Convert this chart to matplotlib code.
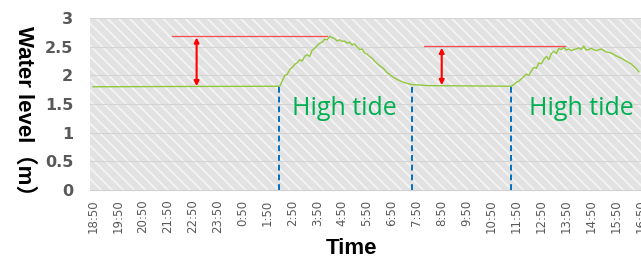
import matplotlib.pyplot as plt
from matplotlib.patches import Rectangle

# hours after 18:50
t_hours = [0.0, 3.0, 7.5, 7.6, 7.7, 7.8, 7.9, 8.0, 8.1, 8.2, 8.3, 8.4, 8.5, 8.6, 8.7,
           8.8, 8.9, 9.0, 9.1, 9.2, 9.3, 9.4, 9.5, 9.6, 9.7, 9.8, 9.9, 10.0, 10.1,
           10.2, 10.3, 10.4, 10.5, 10.6, 10.7, 10.8, 10.9, 11.0, 11.1, 11.2, 11.3,
           11.4, 11.5, 11.6, 11.7, 11.8, 11.9, 12.0, 12.2, 12.4, 12.6, 12.8, 13.5,
           16.8, 16.9, 17.0, 17.1, 17.2, 17.3, 17.4, 17.5, 17.6, 17.7, 17.8, 17.9,
           18.0, 18.1, 18.2, 18.3, 18.4, 18.5, 18.6, 18.7, 18.8, 18.9, 19.0, 19.1,
           19.2, 19.3, 19.4, 19.5, 19.6, 19.7, 19.8, 19.9, 20.0, 20.2, 20.4, 20.6,
           20.8, 21.0, 21.2, 21.4, 21.6, 21.8, 21.92]
level = [1.80, 1.805, 1.81, 1.90, 2.00, 2.02, 2.10, 2.14, 2.19, 2.22, 2.27, 2.25, 2.33,
         2.36, 2.33, 2.44, 2.47, 2.52, 2.56, 2.58, 2.63, 2.62, 2.68, 2.66, 2.64, 2.60,
         2.62, 2.59, 2.60, 2.56, 2.58, 2.53, 2.55, 2.50, 2.45, 2.46, 2.39, 2.37, 2.33,
         2.30, 2.25, 2.21, 2.17, 2.14, 2.10, 2.05, 2.02, 1.98, 1.93, 1.89, 1.86, 1.84,
         1.82, 1.81, 1.84, 1.88, 1.90, 1.94, 1.98, 2.02, 2.00, 2.08, 2.14, 2.12, 2.22,
         2.20, 2.28, 2.33, 2.27, 2.38, 2.42, 2.38, 2.47, 2.45, 2.49, 2.44, 2.46, 2.43,
         2.45, 2.46, 2.48, 2.45, 2.51, 2.44, 2.45, 2.47, 2.43, 2.46, 2.41, 2.39, 2.34,
         2.30, 2.25, 2.20, 2.12, 2.06]

tick_labels = ['18:50', '19:50', '20:50', '21:50', '22:50', '23:50', '0:50', '1:50',
               '2:50', '3:50', '4:50', '5:50', '6:50', '7:50', '8:50', '9:50', '10:50',
               '11:50', '12:50', '13:50', '14:50', '15:50', '16:50']

tide_start = [7.48, 16.8]
tide_end = [12.8]
low_level = 1.81
peaks = [(3.16, 9.4, 2.69, 4.16, 1.81), (13.28, 18.96, 2.51, 14.0, 1.83)]

fig = plt.figure(figsize=(6.41, 2.57), dpi=100)
ax = fig.add_axes([90 / 641, 67 / 257, 551 / 641, 172 / 257])

# hatched background (diagonal white stripes on light gray)
plt.rcParams['hatch.linewidth'] = 1.3
bg = Rectangle((0, 0), 1, 1, transform=ax.transAxes, facecolor='#e2e2e2',
               edgecolor='#f4f4f4', hatch='\\\\\\', lw=0, zorder=0)
ax.add_patch(bg)
for yv in [0.5, 1, 1.5, 2, 2.5, 3]:
    ax.axhline(yv, color='#d4d4d4', lw=0.8, zorder=1)

ax.plot(t_hours, level, color='#92c83e', lw=1.0, zorder=3)

for x in tide_start + tide_end:
    ax.plot([x, x], [0, low_level], color='#0070c0', ls=(0, (3, 2)), lw=1.4, zorder=4)

for x0, x1, top, xa, bot in peaks:
    ax.plot([x0, x1], [top, top], color='#ff4b4b', lw=0.9, zorder=4)
    ax.annotate('', xy=(xa, top - 0.03), xytext=(xa, bot),
                arrowprops=dict(arrowstyle='<|-|>', color='#ff0000', lw=1.5,
                                mutation_scale=7, shrinkA=0, shrinkB=0), zorder=5)

ax.text(10.08, 1.42, 'High tide', color='#00b050', fontsize=18, family='Open Sans',
        ha='center', va='center', zorder=6)
ax.text(19.6, 1.42, 'High tide', color='#00b050', fontsize=18, family='Open Sans',
        ha='center', va='center', zorder=6)

ax.set_xlim(-0.12, 21.92)
ax.set_ylim(0, 3)
ax.set_xticks(range(len(tick_labels)))
ax.set_xticklabels(tick_labels, rotation=90, fontsize=8.5, color='#595959')
ax.set_yticks([0, 0.5, 1, 1.5, 2, 2.5, 3])
ax.set_yticklabels(['0', '0.5', '1', '1.5', '2', '2.5', '3'], fontsize=11.5,
                   fontweight='bold', color='#595959')
ax.tick_params(axis='both', length=0)
ax.tick_params(axis='y', pad=12)
ax.tick_params(axis='x', pad=7)
for s in ['top', 'right', 'left']:
    ax.spines[s].set_visible(False)
ax.spines['bottom'].set_color('#d0d0d0')

fig.text(24 / 641, 1 - 116 / 257, 'Water level（m）', rotation=-90, fontsize=16,
         fontweight='bold', family=['Liberation Sans', 'Noto Sans CJK JP'],
         ha='center', va='center')
fig.text(352 / 641, 1 - 248 / 257, 'Time', fontsize=16, fontweight='bold',
         family='Liberation Sans', ha='center', va='center')

plt.savefig('out.png', dpi=100)
